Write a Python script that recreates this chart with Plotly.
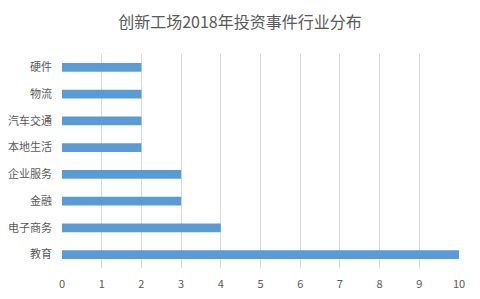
import plotly.graph_objects as go

categories = ["教育", "电子商务", "金融", "企业服务", "本地生活", "汽车交通", "物流", "硬件"]
values = [10, 4, 3, 3, 2, 2, 2, 2]
tick_vals = list(range(0, 11))

FONT = "Noto Sans CJK SC, Microsoft YaHei, sans-serif"

fig = go.Figure(go.Bar(
    x=values, y=categories, orientation="h",
    marker=dict(color="#5B9BD5", line=dict(width=0)),
    hoverinfo="x+y",
))

fig.update_layout(
    width=480, height=299,
    margin=dict(l=62, r=21, t=54, b=31),
    paper_bgcolor="white", plot_bgcolor="white",
    bargap=0.68,
    showlegend=False,
    title=dict(text="创新工场2018年投资事件行业分布", x=0.5, xanchor="center",
               y=1 - 22 / 299, yanchor="middle",
               font=dict(family=FONT, size=16, color="#595959")),
    font=dict(family=FONT, size=11, color="#595959"),
)
fig.update_xaxes(range=[0, 10], tickvals=tick_vals, showgrid=True, gridcolor="#D9D9D9",
                 gridwidth=1, zeroline=False, showline=False, ticks="", automargin=False,
                 ticklabelstandoff=8, tickfont=dict(size=11, color="#595959"))
fig.update_yaxes(categoryorder="array", categoryarray=categories, showgrid=False,
                 zeroline=False, showline=False, ticks="", automargin=False,
                 ticklabelstandoff=9, tickfont=dict(size=11, color="#595959"))

fig.write_html("out.html")
